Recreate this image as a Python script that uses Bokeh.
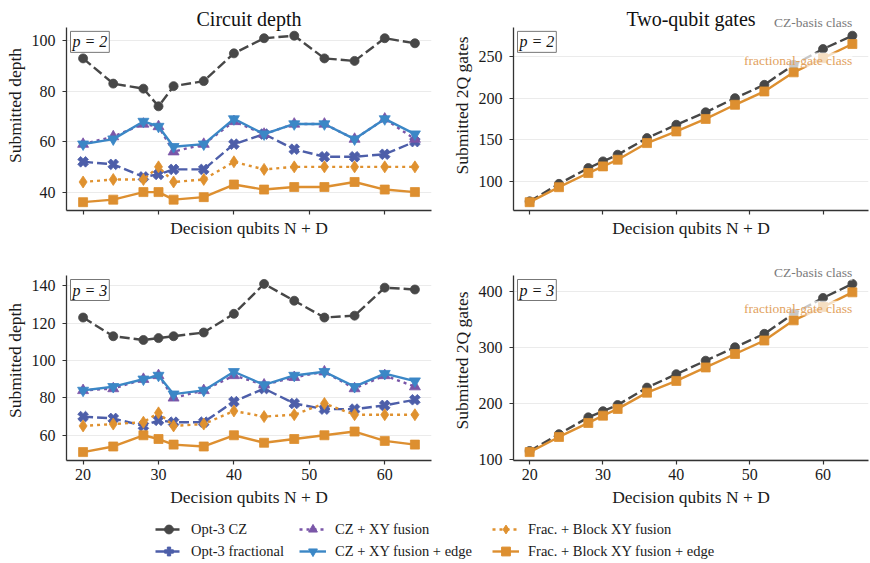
import math
from bokeh.plotting import figure
from bokeh.models import FixedTicker, Range1d, Label, Legend, LegendItem, ColumnDataSource
from bokeh.layouts import column, row
from bokeh.embed import file_html
from bokeh.resources import INLINE

# ---------------- data ----------------
decision_qubits = [20, 24, 28, 30, 32, 36, 40, 44, 48, 52, 56, 60, 64]

# Circuit depth, p = 2
opt3_cz_d2 = [93, 83, 81, 74, 82, 84, 95, 101, 102, 93, 92, 101, 99]
opt3_frac_d2 = [52, 51, 46, 47, 49, 49, 59, 63, 57, 54, 54, 55, 60]
cz_xy_d2 = [59, 62, 67, 66, 56, 59, 68, 63, 67, 67, 61, 69, 61]
cz_xy_edge_d2 = [59, 61, 68, 66, 58, 59, 69, 63, 67, 67, 61, 69, 63]
frac_blk_d2 = [44, 45, 45, 50, 44, 45, 52, 49, 50, 50, 50, 50, 50]
frac_blk_edge_d2 = [36, 37, 40, 40, 37, 38, 43, 41, 42, 42, 44, 41, 40]

# Circuit depth, p = 3
opt3_cz_d3 = [123, 113, 111, 112, 113, 115, 125, 141, 132, 123, 124, 139, 138]
opt3_frac_d3 = [70, 69, 65, 68, 67, 67, 78, 85, 77, 74, 74, 76, 79]
cz_xy_d3 = [84, 85, 90, 92, 80, 84, 92, 87, 91, 94, 85, 92, 86]
cz_xy_edge_d3 = [84, 86, 90, 92, 82, 84, 94, 87, 92, 94, 86, 93, 89]
frac_blk_d3 = [65, 66, 67, 72, 65, 66, 73, 70, 71, 77, 71, 71, 71]
frac_blk_edge_d3 = [51, 54, 60, 58, 55, 54, 60, 56, 58, 60, 62, 57, 55]

# Two-qubit gates
cz_class_2q_p2 = [76, 97, 116, 124, 132, 152, 168, 183, 200, 216, 240, 259, 275]
frac_class_2q_p2 = [75, 93, 110, 118, 126, 146, 160, 175, 192, 208, 231, 248, 265]
cz_class_2q_p3 = [115, 145, 175, 186, 197, 228, 252, 276, 300, 324, 360, 388, 413]
frac_class_2q_p3 = [113, 140, 165, 178, 190, 219, 240, 264, 288, 312, 348, 372, 398]

x_ticks = [20, 30, 40, 50, 60]
yticks_depth_p2 = [40, 60, 80, 100]
yticks_depth_p3 = [60, 80, 100, 120, 140]
yticks_2q_p2 = [100, 150, 200, 250]
yticks_2q_p3 = [100, 200, 300, 400]

series_names = ["Opt-3 CZ", "Opt-3 fractional", "CZ + XY fusion",
                "CZ + XY fusion + edge", "Frac. + Block XY fusion",
                "Frac. + Block XY fusion + edge"]
panel_titles = ["Circuit depth", "Two-qubit gates"]
class_labels = ["CZ-basis class", "fractional-gate class"]

# ---------------- styles ----------------
FONT = "Liberation Serif"
C_CZ = "#474747"
C_FRAC = "#4d5ea9"
C_XY = "#7a56a8"
C_EDGE = "#3b87c6"
C_ORA = "#df912f"
C_ORA2 = "#dd8f30"

styles = [
    dict(color=C_CZ, dash="10 4", marker="circle", size=9, angle=0.0),
    dict(color=C_FRAC, dash="10 4", marker="plus", size=11, angle=math.pi / 4),
    dict(color=C_XY, dash="3 4", marker="triangle", size=11, angle=0.0),
    dict(color=C_EDGE, dash="solid", marker="inverted_triangle", size=11, angle=0.0),
    dict(color=C_ORA, dash="3 4", marker="diamond", size=12, angle=0.0),
    dict(color=C_ORA2, dash="solid", marker="square", size=9, angle=0.0),
]


def auto_range(values_list):
    lo = min(min(v) for v in values_list)
    hi = max(max(v) for v in values_list)
    m = 0.05 * (hi - lo)
    return lo - m, hi + m


x_lo, x_hi = auto_range([decision_qubits])


def make_fig(width, height, bl, br, bt, bb, ext_px, ref_h, yvals, yticks, ylabel,
             show_xlabels):
    # ext_px: extra frame space above the axes box (for texts that sit above it)
    y_lo, y_hi = auto_range(yvals)
    y_top = y_hi + (y_hi - y_lo) * ext_px / ref_h
    p = figure(width=width, height=height, x_range=Range1d(x_lo, x_hi),
               y_range=Range1d(y_lo, y_top), output_backend="svg",
               toolbar_location=None, min_border_left=bl, min_border_right=br,
               min_border_top=bt, min_border_bottom=bb)
    p.outline_line_color = None
    p.xgrid.grid_line_color = None
    p.ygrid.grid_line_color = "#ebebeb"
    p.ygrid.grid_line_width = 1
    p.xaxis.ticker = FixedTicker(ticks=x_ticks)
    p.yaxis.ticker = FixedTicker(ticks=yticks)
    p.yaxis.bounds = (y_lo, y_hi)
    for ax in (p.xaxis, p.yaxis):
        ax.axis_line_color = "#333333"
        ax.axis_line_width = 1.3
        ax.major_tick_line_color = "#333333"
        ax.major_tick_line_width = 1.2
        ax.major_tick_out = 4
        ax.major_tick_in = 0
        ax.minor_tick_line_color = None
        ax.major_label_text_font = FONT
        ax.major_label_text_font_size = "16px"
        ax.major_label_text_color = "#1a1a1a"
        ax.axis_label_text_font = FONT
        ax.axis_label_text_font_size = "17.5px"
        ax.axis_label_text_font_style = "normal"
        ax.axis_label_text_color = "#1a1a1a"
    p.xaxis.axis_label = "Decision qubits N + D"
    p.yaxis.axis_label = ylabel
    p.yaxis.major_label_standoff = 7
    p.yaxis.axis_label_standoff = 4
    if show_xlabels:
        p.xaxis.major_label_standoff = 4
        p.xaxis.axis_label_standoff = 4
    else:
        p.xaxis.major_label_overrides = {t: "" for t in x_ticks}
        p.xaxis.major_label_standoff = 0
        p.xaxis.axis_label_standoff = 3
    return p, y_lo, y_hi


def add_title(p, y_hi, text):
    p.add_layout(Label(x=(x_lo + x_hi) / 2, y=y_hi, y_offset=8, text=text,
                       text_align="center", text_baseline="alphabetic",
                       text_font=FONT, text_font_size="20px", text_color="#111111"))


def add_box(p, y_hi, text):
    p.add_layout(Label(x=x_lo, y=y_hi, x_offset=4, y_offset=-4, text=text,
                       text_baseline="top", text_align="left",
                       text_font=FONT, text_font_size="16px", text_font_style="italic",
                       text_color="#111111", border_line_color="#777777",
                       border_line_width=1, background_fill_color="white",
                       padding=2))


def draw_series(p, ys_list, idx_list):
    for ys, i in zip(ys_list, idx_list):
        st = styles[i]
        src = ColumnDataSource(dict(x=decision_qubits, y=ys))
        p.line("x", "y", source=src, line_color=st["color"], line_width=2.4,
               line_dash=st["dash"])
        p.scatter("x", "y", source=src, marker=st["marker"], size=st["size"],
                  angle=st["angle"], fill_color=st["color"], line_color=st["color"],
                  line_width=0.8)


# --------- top row ---------
depth2 = [opt3_cz_d2, opt3_frac_d2, cz_xy_d2, cz_xy_edge_d2, frac_blk_d2, frac_blk_edge_d2]
p_tl, tl_lo, tl_hi = make_fig(448, 240, 66, 17, 0, 29, 27, 184, depth2, yticks_depth_p2,
                              "Submitted depth", False)
draw_series(p_tl, depth2, range(6))
add_box(p_tl, tl_hi, "p = 2")
add_title(p_tl, tl_hi, panel_titles[0])

g2 = [cz_class_2q_p2, frac_class_2q_p2]
p_tr, tr_lo, tr_hi = make_fig(422, 240, 63, 2, 0, 29, 27, 184, g2, yticks_2q_p2,
                              "Submitted 2Q gates", False)
draw_series(p_tr, g2, [0, 5])
add_box(p_tr, tr_hi, "p = 2")
add_title(p_tr, tr_hi, panel_titles[1])

# --------- bottom row ---------
depth3 = [opt3_cz_d3, opt3_frac_d3, cz_xy_d3, cz_xy_edge_d3, frac_blk_d3, frac_blk_edge_d3]
p_bl, bl_lo, bl_hi = make_fig(448, 270, 66, 17, 20, 50, 15, 185, depth3, yticks_depth_p3,
                              "Submitted depth", True)
draw_series(p_bl, depth3, range(6))
add_box(p_bl, bl_hi, "p = 3")

g3 = [cz_class_2q_p3, frac_class_2q_p3]
p_br, br_lo, br_hi = make_fig(422, 270, 63, 2, 20, 50, 15, 185, g3, yticks_2q_p3,
                              "Submitted 2Q gates", True)
draw_series(p_br, g3, [0, 5])
add_box(p_br, br_hi, "p = 3")

# class annotations on right panels
for p, czv, frv, off in ((p_tr, cz_class_2q_p2, frac_class_2q_p2, 13),
                         (p_br, cz_class_2q_p3, frac_class_2q_p3, 11)):
    p.add_layout(Label(x=decision_qubits[-1], y=czv[-1], y_offset=off,
                       text=class_labels[0], text_align="right", text_baseline="middle",
                       text_font=FONT, text_font_size="13.5px", text_color="#7a7a7a",
                       background_fill_color="white", background_fill_alpha=0.7))
    p.add_layout(Label(x=decision_qubits[-1], y=frv[-1], y_offset=-16,
                       text=class_labels[1], text_align="right",
                       text_baseline="middle", text_font=FONT, text_font_size="13.5px",
                       text_color="#e2a25e", background_fill_color="white",
                       background_fill_alpha=0.7))

# --------- legend (separate strip; its glyphs lie outside its ranges) ---------
p_leg = figure(width=870, height=53, output_backend="svg", toolbar_location=None,
               min_border=0, x_range=Range1d(0, 1), y_range=Range1d(0, 1))
p_leg.axis.visible = False
p_leg.grid.visible = False
p_leg.outline_line_color = None
items = []
for i, (name, ys) in enumerate(zip(series_names, depth2)):
    st = styles[i]
    src = ColumnDataSource(dict(x=decision_qubits, y=ys))
    r1 = p_leg.line("x", "y", source=src, line_color=st["color"], line_width=2.4,
                    line_dash=st["dash"])
    r2 = p_leg.scatter("x", "y", source=src, marker=st["marker"], size=st["size"],
                       angle=st["angle"], fill_color=st["color"], line_color=st["color"])
    items.append(LegendItem(label=name, renderers=[r1, r2]))

col_x = [155, 299, 492]
for c in range(3):
    leg = Legend(items=items[2 * c:2 * c + 2], location=(col_x[c], 1),
                 orientation="vertical")
    leg.label_text_font = FONT
    leg.label_text_font_size = "14.5px"
    leg.label_text_color = "#1a1a1a"
    leg.glyph_width = 27
    leg.glyph_height = 22
    leg.label_height = 22
    leg.label_standoff = 9
    leg.spacing = -6
    leg.padding = 0
    leg.margin = 0
    leg.border_line_color = None
    leg.background_fill_alpha = 0
    p_leg.add_layout(leg)

layout = column(row(p_tl, p_tr), row(p_bl, p_br), p_leg)
open("out.html", "w").write(file_html(layout, INLINE))
